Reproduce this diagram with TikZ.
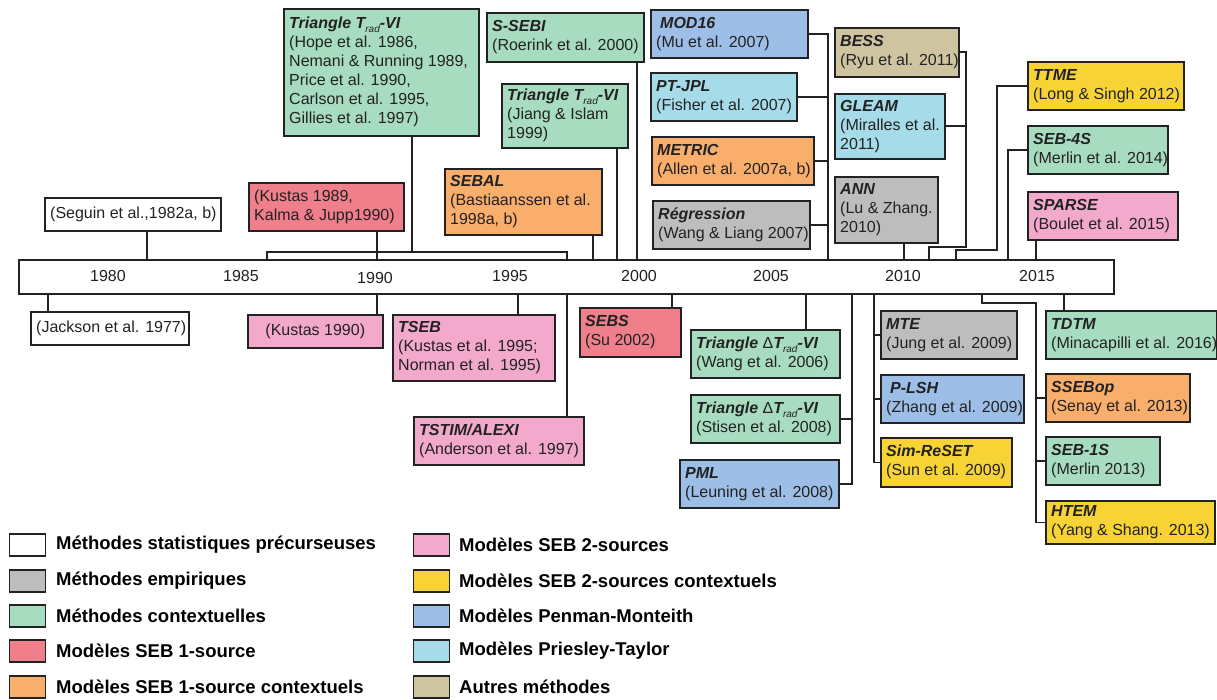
\documentclass[tikz,border=0pt]{standalone}
\usepackage{fontspec}
\setmainfont{Liberation Sans}
\definecolor{cgray}{HTML}{BDBDBD}
\definecolor{cgreen}{HTML}{A8DCC1}
\definecolor{cred}{HTML}{EF7F8A}
\definecolor{corange}{HTML}{F9AE6C}
\definecolor{cpink}{HTML}{F3A9CC}
\definecolor{cyellow}{HTML}{F7D335}
\definecolor{cblue}{HTML}{9DBEE6}
\definecolor{ccyan}{HTML}{A6DCEA}
\definecolor{ckhaki}{HTML}{CEC5A0}
\definecolor{ink}{HTML}{222222}
\newcommand\ttl[1]{\textbf{\textit{#1}}}
\newcommand\trad{\textit{T}\raisebox{-0.45ex}{\mdseries\itshape\fontsize{10}{10}\selectfont rad}}
\newcommand\dtrad{{\mdseries\upshape Δ}\trad}
\newcommand\bxx[7]{%
  \node[box, fill=#2, minimum width={#5-#3}, minimum height={#6-#4}] (#1) at (#3,#4) {};
  \node[txt] (#1t) at ([xshift=6pt]#1.west) {#7};}
\begin{document}
\begin{tikzpicture}[x=1pt,y=-1pt,
  box/.style={draw=ink, line width=1.6pt, inner sep=0pt, anchor=north west},
  txt/.style={anchor=west, align=left, inner sep=0pt, font=\fontsize{16}{19}\selectfont, text=ink},
  conn/.style={draw=ink, line width=1.6pt},
  yr/.style={font=\fontsize{16}{19}\selectfont, text=ink, inner sep=0pt},
  sw/.style={draw=ink, line width=1.4pt, minimum width=36pt, minimum height=22pt, inner sep=0pt, anchor=west},
  lg/.style={font=\fontsize{18.5}{22}\selectfont\bfseries, text=black, anchor=west, inner sep=0pt}]
\useasboundingbox[fill=white] (0,0) rectangle (1217,700);

% timeline bar
\node[box, fill=white, minimum width=1095, minimum height=34] (bar) at (18,259) {};
\node[yr] (y1980) at (108,276) {1980};
\node[yr] (y1985) at (241,276) {1985};
\node[yr] (y1990) at (375,278) {1990};
\node[yr] (y1995) at (510,276) {1995};
\node[yr] (y2000) at (639,276) {2000};
\node[yr] (y2005) at (771,276) {2005};
\node[yr] (y2010) at (903,276) {2010};
\node[yr] (y2015) at (1037,276) {2015};

% top boxes
\bxx{seguin}{white}{44}{197}{220}{230}{(Seguin et al.,1982a, b)}
\bxx{kustas89}{cred}{248}{182}{403}{230}{(Kustas 1989,\\Kalma \& Jupp1990)}
\bxx{hope}{cgreen}{283}{8}{478}{135}{\ttl{Triangle \trad-VI}\\(Hope et al. 1986,\\Nemani \& Running 1989,\\Price et al. 1990,\\Carlson et al. 1995,\\Gillies et al. 1997)}
\bxx{sebal}{corange}{444}{168}{601}{234}{\ttl{SEBAL}\\(Bastiaanssen et al.\\1998a, b)}
\bxx{jiang}{cgreen}{501}{83}{627}{147}{\ttl{Triangle \trad-VI}\\(Jiang \& Islam\\1999)}
\bxx{ssebi}{cgreen}{486}{12}{643}{61}{\ttl{S-SEBI}\\(Roerink et al. 2000)}
\bxx{mod16}{cblue}{650}{9}{807}{57}{\hspace{4pt}\ttl{MOD16}\\(Mu et al. 2007)}
\bxx{ptjpl}{ccyan}{650}{72}{796}{120}{\ttl{PT-JPL}\\(Fisher et al. 2007)}
\bxx{metric}{corange}{651}{136}{813}{184}{\ttl{METRIC}\\(Allen et al. 2007a, b)}
\bxx{regr}{cgray}{652}{200}{809}{248}{\ttl{Régression}\\(Wang \& Liang 2007)}
\bxx{bess}{ckhaki}{834}{27}{958}{76}{\ttl{BESS}\\(Ryu et al. 2011)}
\bxx{gleam}{ccyan}{834}{93}{944}{158}{\ttl{GLEAM}\\(Miralles et al.\\2011)}
\bxx{ann}{cgray}{834}{176}{937}{242}{\ttl{ANN}\\(Lu \& Zhang.\\2010)}
\bxx{ttme}{cyellow}{1027}{61}{1183}{109}{\ttl{TTME}\\(Long \& Singh 2012)}
\bxx{seb4s}{cgreen}{1027}{125}{1167}{173}{\ttl{SEB-4S}\\(Merlin et al. 2014)}
\bxx{sparse}{cpink}{1027}{191}{1177}{239}{\ttl{SPARSE}\\(Boulet et al. 2015)}

% bottom boxes
\bxx{jackson}{white}{30}{311}{188}{344}{(Jackson et al. 1977)}
\node[box, fill=cpink, minimum width=135, minimum height=33] (kustas90) at (247,314) {};
\node[txt, anchor=center] (kustas90t) at (kustas90.center) {(Kustas 1990)};
\bxx{tseb}{cpink}{392}{314}{554}{380}{\ttl{TSEB}\\(Kustas et al. 1995;\\Norman et al. 1995)}
\bxx{tstim}{cpink}{413}{416}{583}{464}{\ttl{TSTIM/ALEXI}\\(Anderson et al. 1997)}
\bxx{sebs}{cred}{579}{307}{680}{356}{\ttl{SEBS}\\(Su 2002)}
\bxx{wang}{cgreen}{690}{329}{839}{377}{\ttl{Triangle \dtrad-VI}\\(Wang et al. 2006)}
\bxx{stisen}{cgreen}{690}{394}{839}{442}{\ttl{Triangle \dtrad-VI}\\(Stisen et al. 2008)}
\bxx{pml}{cblue}{679}{459}{838}{507}{\ttl{PML}\\(Leuning et al. 2008)}
\bxx{mte}{cgray}{880}{310}{1016}{358}{\ttl{MTE}\\(Jung et al. 2009)}
\bxx{plsh}{cblue}{880}{374}{1023}{422}{\hspace{4pt}\ttl{P-LSH}\\(Zhang et al. 2009)}
\bxx{simreset}{cyellow}{880}{437}{1011}{486}{\ttl{Sim-ReSET}\\(Sun et al. 2009)}
\bxx{tdtm}{cgreen}{1045}{310}{1216}{358}{\ttl{TDTM}\\(Minacapilli et al. 2016)}
\bxx{ssebop}{corange}{1045}{373}{1189}{421}{\ttl{SSEBop}\\(Senay et al. 2013)}
\bxx{seb1s}{cgreen}{1045}{436}{1159}{484}{\ttl{SEB-1S}\\(Merlin 2013)}
\bxx{htem}{cyellow}{1045}{500}{1214}{543}{\ttl{HTEM}\\(Yang \& Shang. 2013)}

% top connectors
\coordinate (aSeguin) at (147,259);
\draw[conn] (seguin.south -| aSeguin) -- (aSeguin);
\coordinate (aKustas) at (377,259);
\draw[conn] (kustas89.south -| aKustas) -- (aKustas);
\coordinate (hL) at (267,252); \coordinate (hR) at (567,252); \coordinate (hM) at (412,252);
\draw[conn] (hope.south -| hM) -- (hM);
\draw[conn] (hL |- bar.north) -- (hL) -- (hR) -- (hR |- bar.north);
\coordinate (aSebal) at (593,259);
\draw[conn] (sebal.south -| aSebal) -- (aSebal);
\coordinate (aJiang) at (617,259);
\draw[conn] (jiang.south -| aJiang) -- (aJiang);
\coordinate (aSsebi) at (637,259);
\draw[conn] (ssebi.south -| aSsebi) -- (aSsebi);
\coordinate (g7) at (828,259);
\draw[conn] (mod16.east) -| (g7);
\draw[conn] (ptjpl.east) -- (ptjpl.east -| g7);
\draw[conn] (metric.east) -- (metric.east -| g7);
\draw[conn] (regr.east) -- (regr.east -| g7);
\coordinate (g11b) at (966,247); \coordinate (g11) at (929,259);
\draw[conn] (bess.east) -| (g11b) -| (g11);
\draw[conn] (gleam.east) -- (gleam.east -| g11b);
\coordinate (aAnn) at (904,259);
\draw[conn] (ann.south -| aAnn) -- (aAnn);
\coordinate (g12b) at (997,250); \coordinate (g12) at (956,259);
\draw[conn] (ttme.west) -| (g12b) -| (g12);
\coordinate (g14) at (1008,259);
\draw[conn] (seb4s.west) -| (g14);
\coordinate (aSparse) at (1036,259);
\draw[conn] (sparse.south -| aSparse) -- (aSparse);

% bottom connectors
\coordinate (bJackson) at (48,293);
\draw[conn] (bJackson) -- (bJackson |- jackson.north);
\coordinate (bKustas) at (377,293);
\draw[conn] (bKustas) -- (bKustas |- kustas90.north);
\coordinate (bTseb) at (518,293);
\draw[conn] (bTseb) -- (bTseb |- tseb.north);
\coordinate (bTstim) at (567,293);
\draw[conn] (bTstim) -- (bTstim |- tstim.north);
\coordinate (bSebs) at (672,293);
\draw[conn] (bSebs) -- (bSebs |- sebs.north);
\coordinate (bWang) at (806,293);
\draw[conn] (bWang) -- (bWang |- wang.north);
\coordinate (b08) at (852,293);
\draw[conn] (b08) |- (pml.east);
\draw[conn] (stisen.east) -- (stisen.east -| b08);
\coordinate (b09) at (874,293);
\draw[conn] (b09) |- (simreset.west);
\draw[conn] (mte.west -| b09) -- (mte.west);
\draw[conn] (plsh.west -| b09) -- (plsh.west);
\coordinate (bTdtm) at (1064,293);
\draw[conn] (bTdtm) -- (bTdtm |- tdtm.north);
\coordinate (b13) at (982,293); \coordinate (b13b) at (1036,303);
\draw[conn] (b13) |- (b13b) |- (htem.west);
\draw[conn] (ssebop.west -| b13b) -- (ssebop.west);
\draw[conn] (seb1s.west -| b13b) -- (seb1s.west);

% legend
\node[sw, fill=white] (s1) at (9,545) {};
\node[lg] (l1) at (56,545) {Méthodes statistiques précurseuses};
\node[sw, fill=cgray] (s2) at (9,581) {};
\node[lg] (l2) at (56,581) {Méthodes empiriques};
\node[sw, fill=cgreen] (s3) at (9,616) {};
\node[lg] (l3) at (56,616) {Méthodes contextuelles};
\node[sw, fill=cred] (s4) at (9,651) {};
\node[lg] (l4) at (56,651) {Modèles SEB 1-source};
\node[sw, fill=corange] (s5) at (9,687) {};
\node[lg] (l5) at (56,687) {Modèles SEB 1-source contextuels};
\node[sw, fill=cpink] (s6) at (413,545) {};
\node[lg] (l6) at (459,545) {Modèles SEB 2-sources};
\node[sw, fill=cyellow] (s7) at (413,581) {};
\node[lg] (l7) at (459,581) {Modèles SEB 2-sources contextuels};
\node[sw, fill=cblue] (s8) at (413,616) {};
\node[lg] (l8) at (459,616) {Modèles Penman-Monteith};
\node[sw, fill=ccyan] (s9) at (413,651) {};
\node[lg] (l9) at (459,651) {Modèles Priesley-Taylor};
\node[sw, fill=ckhaki] (s10) at (413,687) {};
\node[lg] (l10) at (459,687) {Autres méthodes};
\end{tikzpicture}
\end{document}
